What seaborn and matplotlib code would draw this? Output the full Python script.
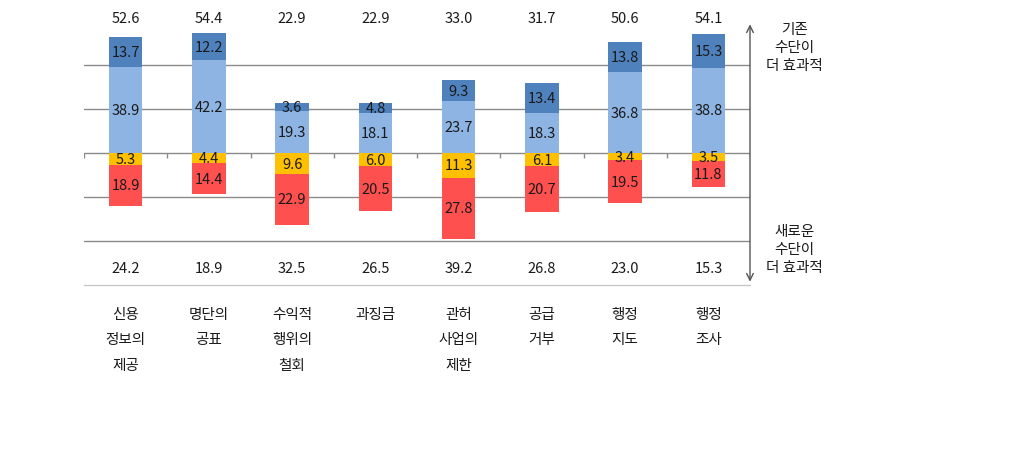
import numpy as np
import matplotlib
matplotlib.use("Agg")
import matplotlib.pyplot as plt
import seaborn as sns
import pandas as pd

categories = ['신용\n정보의\n제공', '명단의\n공표', '수익적\n행위의\n철회', '과징금',
              '관허\n사업의\n제한', '공급\n거부', '행정\n지도', '행정\n조사']
light_blue = [38.9, 42.2, 19.3, 18.1, 23.7, 18.3, 36.8, 38.8]
dark_blue = [13.7, 12.2, 3.6, 4.8, 9.3, 13.4, 13.8, 15.3]
yellow = [5.3, 4.4, 9.6, 6.0, 11.3, 6.1, 3.4, 3.5]
red = [18.9, 14.4, 22.9, 20.5, 27.8, 20.7, 19.5, 11.8]
top_total = [52.6, 54.4, 22.9, 22.9, 33.0, 31.7, 50.6, 54.1]
bottom_total = [24.2, 18.9, 32.5, 26.5, 39.2, 26.8, 23.0, 15.3]
top_note = '기존\n수단이\n더 효과적'
bottom_note = '새로운\n수단이\n더 효과적'

sns.set_theme(style='white')
plt.rcParams['font.family'] = ['Noto Sans CJK KR', 'DejaVu Sans']

C_DB = '#4F81BD'
C_LB = '#8EB4E3'
C_Y = '#FFC000'
C_R = '#FF5050'
TXT = '#1a1a1a'

df = pd.DataFrame({
    'cat': categories,
    'lb': light_blue,
    'db': dark_blue,
    'y': yellow,
    'r': red,
})
df['pos_total'] = df['lb'] + df['db']
df['neg_total'] = -(df['y'] + df['r'])
df['neg_y'] = -df['y']

fig = plt.figure(figsize=(10.21, 4.56), dpi=100)
ax = fig.add_axes([84 / 1021, 1 - 286 / 456, (750 - 84) / 1021, 286 / 456])

grid_c = '#8a8a8a'
for g in [40, 20, -20, -40]:
    ax.axhline(g, color=grid_c, lw=1.0, zorder=0)
ax.axhline(0, color=grid_c, lw=1.0, zorder=0)

kw = dict(x='cat', order=categories, width=0.4, saturation=1, edgecolor='none', linewidth=0, zorder=2, ax=ax)
sns.barplot(data=df, y='pos_total', color=C_DB, **kw)
sns.barplot(data=df, y='lb', color=C_LB, **kw)
sns.barplot(data=df, y='neg_total', color=C_R, **kw)
sns.barplot(data=df, y='neg_y', color=C_Y, **kw)

n = len(categories)
# zero-line boundary ticks
ax.vlines(np.arange(n + 1) - 0.5, 0, -2.2, color=grid_c, lw=1.0, zorder=1)

fs = 10.5
for i in range(n):
    ax.text(i, light_blue[i] / 2, f'{light_blue[i]:.1f}', ha='center', va='center', fontsize=fs, color=TXT, zorder=3)
    ax.text(i, light_blue[i] + dark_blue[i] / 2, f'{dark_blue[i]:.1f}', ha='center', va='center', fontsize=fs, color=TXT, zorder=3)
    ax.text(i, -yellow[i] / 2, f'{yellow[i]:.1f}', ha='center', va='center', fontsize=fs, color=TXT, zorder=3)
    ax.text(i, -yellow[i] - red[i] / 2, f'{red[i]:.1f}', ha='center', va='center', fontsize=fs, color=TXT, zorder=3)
    ax.text(i, 61.5, f'{top_total[i]:.1f}', ha='center', va='center', fontsize=fs, color=TXT)
    ax.text(i, -52.5, f'{bottom_total[i]:.1f}', ha='center', va='center', fontsize=fs, color=TXT)

ax.set_xlim(-0.5, n - 0.5)
ax.set_ylim(-60, 70)
ax.set_yticks([])
ax.set_xlabel('')
ax.set_ylabel('')
for s in ['top', 'left', 'right']:
    ax.spines[s].set_visible(False)
ax.spines['bottom'].set_color('#c8c8c8')
ax.spines['bottom'].set_linewidth(1.0)
ax.set_xticks(range(n))
ax.set_xticklabels(categories, fontsize=fs, color=TXT, linespacing=2.05, va='top')
ax.tick_params(axis='x', length=0, pad=15.5)

# right-side arrow
ax.annotate('', xy=(1.0, 58.5), xytext=(1.0, -58.5), xycoords=('axes fraction', 'data'),
            textcoords=('axes fraction', 'data'),
            arrowprops=dict(arrowstyle='<->', color='#555555', lw=1.0, shrinkA=0, shrinkB=0),
            annotation_clip=False)
ax.text(794 / 1021, 1 - 48 / 456, top_note, transform=fig.transFigure, ha='center', va='center',
        fontsize=fs, color=TXT, linespacing=1.4)
ax.text(794 / 1021, 1 - 250 / 456, bottom_note, transform=fig.transFigure, ha='center', va='center',
        fontsize=fs, color=TXT, linespacing=1.4)

fig.savefig('out.png', dpi=100, facecolor='white')
